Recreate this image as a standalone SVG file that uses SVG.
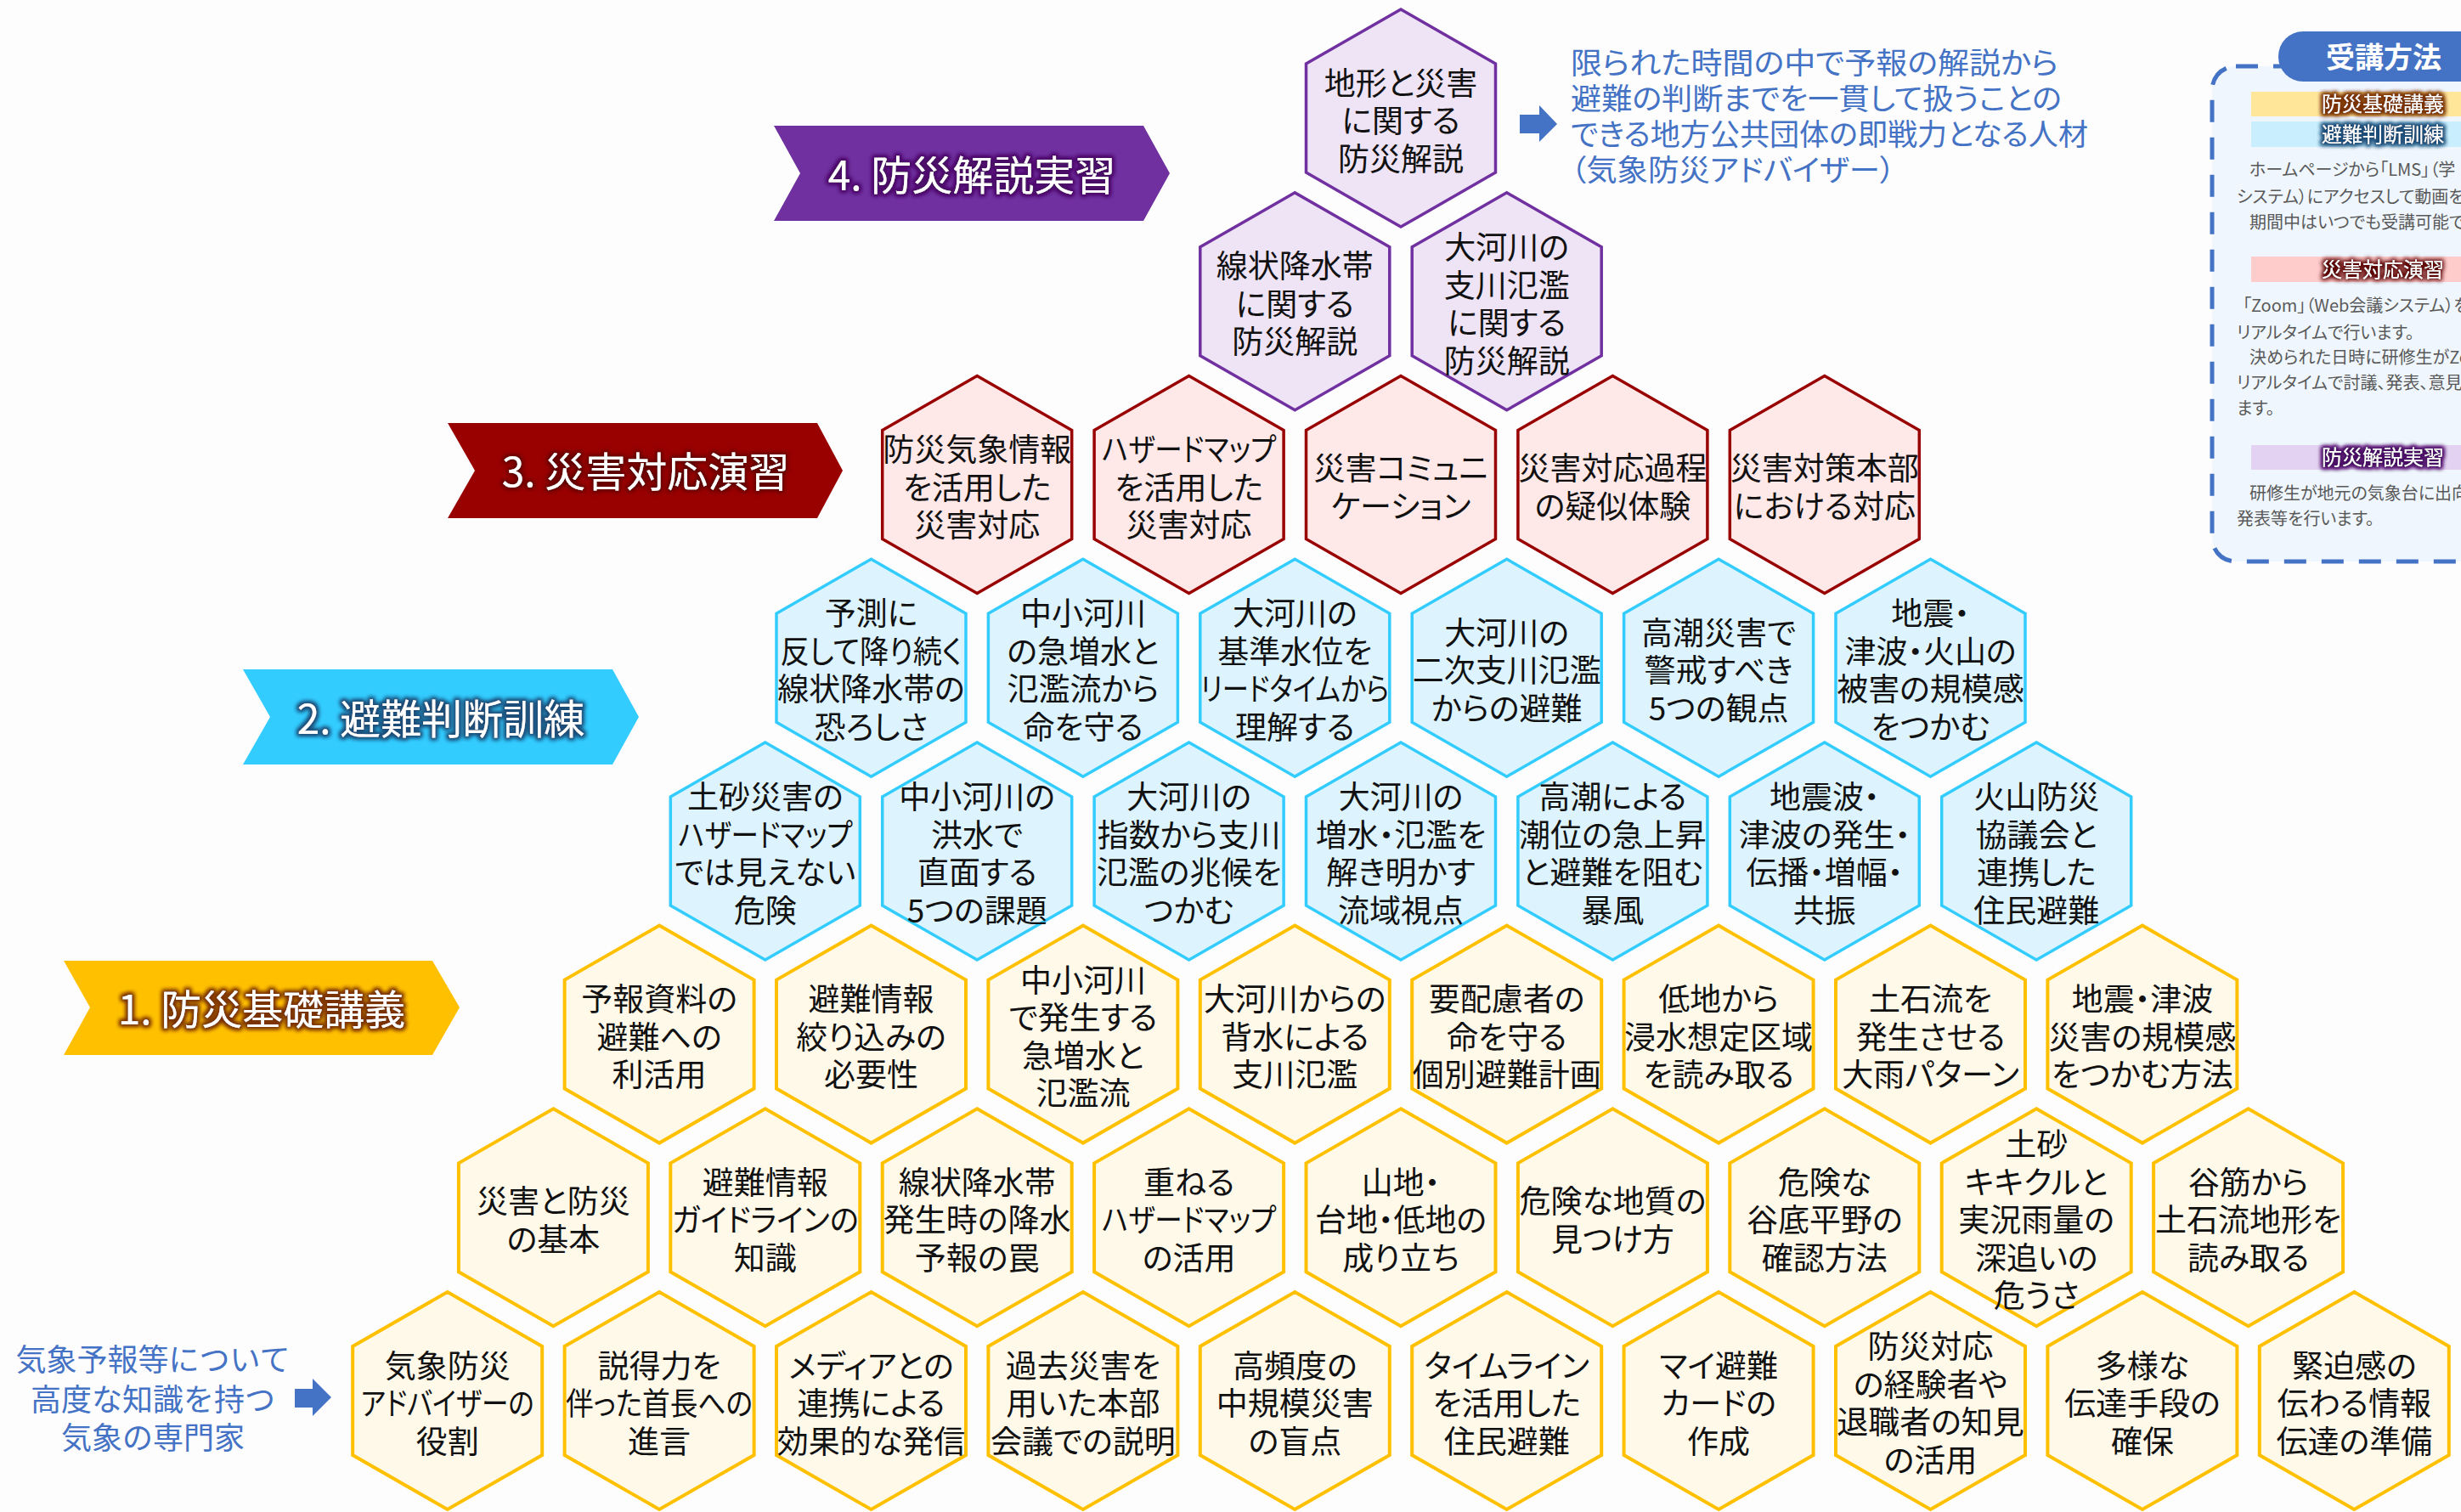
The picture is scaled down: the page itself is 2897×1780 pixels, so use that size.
<svg xmlns="http://www.w3.org/2000/svg" xmlns:xlink="http://www.w3.org/1999/xlink" width="2897" height="1780" viewBox="0 0 2897 1780">
<style>
.hy{fill:#FFF9EA;stroke:#FFC000;stroke-width:4}
.hb{fill:#DDF4FE;stroke:#33CCFF;stroke-width:3.5}
.hr{fill:#FFE8E8;stroke:#990000;stroke-width:3.5}
.hp{fill:#EEE4F5;stroke:#7030A0;stroke-width:3.5}
.t{font-family:"Noto Sans CJK JP","Noto Sans",sans-serif;font-size:37px;fill:#111;text-anchor:middle;font-feature-settings:"palt" 1}
.bn{font-family:"Noto Sans CJK JP","Noto Sans",sans-serif;font-size:48px;fill:#fff;text-anchor:middle}
.bl{font-family:"Noto Sans CJK JP","Noto Sans",sans-serif;font-size:35px;fill:#4472C4;font-feature-settings:"palt" 1}
.bl2{font-family:"Noto Sans CJK JP","Noto Sans",sans-serif;font-size:36px;fill:#4472C4;text-anchor:middle}
.arr{fill:#4472C4}
.lg{font-family:"Noto Sans CJK JP","Noto Sans",sans-serif;font-size:24px;fill:#fff;text-anchor:middle}
.lp{font-family:"Noto Sans CJK JP","Noto Sans",sans-serif;font-size:20px;fill:#595959;font-feature-settings:"palt" 1}
</style>
<defs>
<path id="hex" d="M0,-128 L111.5,-64 L111.5,64 L0,128 L-111.5,64 L-111.5,-64 Z"/>
<filter id="gBrown" x="-10%" y="-40%" width="120%" height="180%">
<feMorphology in="SourceAlpha" operator="dilate" radius="2" result="d"/>
<feGaussianBlur in="d" stdDeviation="2.5" result="b"/>
<feFlood flood-color="#7A3300"/>
<feComposite in2="b" operator="in" result="g"/>
<feMerge><feMergeNode in="g"/><feMergeNode in="g"/><feMergeNode in="SourceGraphic"/></feMerge>
</filter>
<filter id="gNavy" x="-10%" y="-40%" width="120%" height="180%">
<feMorphology in="SourceAlpha" operator="dilate" radius="2" result="d"/>
<feGaussianBlur in="d" stdDeviation="2.5" result="b"/>
<feFlood flood-color="#1F4E79"/>
<feComposite in2="b" operator="in" result="g"/>
<feMerge><feMergeNode in="g"/><feMergeNode in="g"/><feMergeNode in="SourceGraphic"/></feMerge>
</filter>
<filter id="gRed" x="-10%" y="-40%" width="120%" height="180%">
<feMorphology in="SourceAlpha" operator="dilate" radius="2" result="d"/>
<feGaussianBlur in="d" stdDeviation="2.5" result="b"/>
<feFlood flood-color="#5A0000"/>
<feComposite in2="b" operator="in" result="g"/>
<feMerge><feMergeNode in="g"/><feMergeNode in="SourceGraphic"/></feMerge>
</filter>
<filter id="gPurple" x="-10%" y="-40%" width="120%" height="180%">
<feMorphology in="SourceAlpha" operator="dilate" radius="2" result="d"/>
<feGaussianBlur in="d" stdDeviation="2.5" result="b"/>
<feFlood flood-color="#4A0A66"/>
<feComposite in2="b" operator="in" result="g"/>
<feMerge><feMergeNode in="g"/><feMergeNode in="g"/><feMergeNode in="SourceGraphic"/></feMerge>
</filter>
</defs>
<rect x="0" y="0" width="2897" height="1780" fill="#FDFDFE"/>

<!-- Level banners -->
<g id="banner4">
<polygon points="911,148 1346,148 1377,204 1346,260 911,260 942,204" fill="#7030A0"/>
<text class="bn" x="1144" y="224" filter="url(#gPurple)">4. 防災解説実習</text>
</g>
<g id="banner3">
<polygon points="527,498 962,498 992,554 962,610 527,610 559,554" fill="#990000"/>
<text class="bn" x="760" y="573" filter="url(#gRed)">3. 災害対応演習</text>
</g>
<g id="banner2">
<polygon points="286,788 721,788 752,844 721,900 286,900 318,844" fill="#33CCFF"/>
<text class="bn" x="519" y="864" filter="url(#gNavy)">2. 避難判断訓練</text>
</g>
<g id="banner1">
<polygon points="75,1131 509,1131 541,1186 509,1242 75,1242 106,1186" fill="#FFC000"/>
<text class="bn" x="308" y="1206" filter="url(#gBrown)">1. 防災基礎講義</text>
</g>

<!-- Side texts -->
<g id="goal">
<text class="bl" x="1849" y="87" textLength="574" lengthAdjust="spacingAndGlyphs">限られた時間の中で予報の解説から</text>
<text class="bl" x="1849" y="129" textLength="578" lengthAdjust="spacingAndGlyphs">避難の判断までを一貫して扱うことの</text>
<text class="bl" x="1849" y="171" textLength="609" lengthAdjust="spacingAndGlyphs">できる地方公共団体の即戦力となる人材</text>
<text class="bl" x="1849" y="213" textLength="382" lengthAdjust="spacingAndGlyphs">（気象防災アドバイザー）</text>
</g>
<g id="start">
<text class="bl2" x="180" y="1614">気象予報等について</text>
<text class="bl2" x="180" y="1661">高度な知識を持つ</text>
<text class="bl2" x="180" y="1706">気象の専門家</text>
</g>

<!-- Connectors -->
<g id="connectors">
<polygon class="arr" points="1789,135 1812,135 1812,124 1833,146 1812,167 1812,157 1789,157"/>
<polygon class="arr" points="347,1635 368,1635 368,1623 390,1645 368,1667 368,1657 347,1657"/>
</g>

<!-- Row 8 -->
<g id="p-top" transform="translate(1649,139.1)"><use href="#hex" class="hp"/><text class="t"><tspan x="0" y="-27.5">地形と災害</tspan><tspan x="0" y="17">に関する</tspan><tspan x="0" y="61.5">防災解説</tspan></text></g>
<!-- Row 7 -->
<g id="p-1" transform="translate(1524.3,354.8)"><use href="#hex" class="hp"/><text class="t"><tspan x="0" y="-27.5">線状降水帯</tspan><tspan x="0" y="17">に関する</tspan><tspan x="0" y="61.5">防災解説</tspan></text></g>
<g id="p-2" transform="translate(1773.7,354.8)"><use href="#hex" class="hp"/><text class="t"><tspan x="0" y="-49.75">大河川の</tspan><tspan x="0" y="-5.25">支川氾濫</tspan><tspan x="0" y="39.25">に関する</tspan><tspan x="0" y="83.75">防災解説</tspan></text></g>
<!-- Row 6 -->
<g id="r-1" transform="translate(1150.2,570.5)"><use href="#hex" class="hr"/><text class="t"><tspan x="0" y="-27.5">防災気象情報</tspan><tspan x="0" y="17">を活用した</tspan><tspan x="0" y="61.5">災害対応</tspan></text></g>
<g id="r-2" transform="translate(1399.6,570.5)"><use href="#hex" class="hr"/><text class="t" x="0" y="-27.5" textLength="205" lengthAdjust="spacingAndGlyphs">ハザードマップ</text><text class="t"><tspan x="0" y="17">を活用した</tspan><tspan x="0" y="61.5">災害対応</tspan></text></g>
<g id="r-3" transform="translate(1649,570.5)"><use href="#hex" class="hr"/><text class="t"><tspan x="0" y="-5.25">災害コミュニ</tspan><tspan x="0" y="39.25">ケーション</tspan></text></g>
<g id="r-4" transform="translate(1898.4,570.5)"><use href="#hex" class="hr"/><text class="t"><tspan x="0" y="-5.25">災害対応過程</tspan><tspan x="0" y="39.25">の疑似体験</tspan></text></g>
<g id="r-5" transform="translate(2147.8,570.5)"><use href="#hex" class="hr"/><text class="t"><tspan x="0" y="-5.25">災害対策本部</tspan><tspan x="0" y="39.25">における対応</tspan></text></g>
<!-- Row 5 -->
<g id="b5-1" transform="translate(1025.5,786.2)"><use href="#hex" class="hb"/><text class="t"><tspan x="0" y="-49.75">予測に</tspan></text><text class="t" x="0" y="-5.25" textLength="214" lengthAdjust="spacingAndGlyphs">反して降り続く</text><text class="t"><tspan x="0" y="39.25">線状降水帯の</tspan><tspan x="0" y="83.75">恐ろしさ</tspan></text></g>
<g id="b5-2" transform="translate(1274.9,786.2)"><use href="#hex" class="hb"/><text class="t"><tspan x="0" y="-49.75">中小河川</tspan><tspan x="0" y="-5.25">の急増水と</tspan><tspan x="0" y="39.25">氾濫流から</tspan><tspan x="0" y="83.75">命を守る</tspan></text></g>
<g id="b5-3" transform="translate(1524.3,786.2)"><use href="#hex" class="hb"/><text class="t"><tspan x="0" y="-49.75">大河川の</tspan><tspan x="0" y="-5.25">基準水位を</tspan></text><text class="t" x="0" y="39.25" textLength="222" lengthAdjust="spacingAndGlyphs">リードタイムから</text><text class="t"><tspan x="0" y="83.75">理解する</tspan></text></g>
<g id="b5-4" transform="translate(1773.7,786.2)"><use href="#hex" class="hb"/><text class="t"><tspan x="0" y="-27.5">大河川の</tspan><tspan x="0" y="17">二次支川氾濫</tspan><tspan x="0" y="61.5">からの避難</tspan></text></g>
<g id="b5-5" transform="translate(2023.1,786.2)"><use href="#hex" class="hb"/><text class="t"><tspan x="0" y="-27.5">高潮災害で</tspan><tspan x="0" y="17">警戒すべき</tspan><tspan x="0" y="61.5">5つの観点</tspan></text></g>
<g id="b5-6" transform="translate(2272.5,786.2)"><use href="#hex" class="hb"/><text class="t"><tspan x="0" y="-49.75">地震・</tspan><tspan x="0" y="-5.25">津波・火山の</tspan><tspan x="0" y="39.25">被害の規模感</tspan><tspan x="0" y="83.75">をつかむ</tspan></text></g>
<!-- Row 4 -->
<g id="b4-1" transform="translate(900.8,1001.9)"><use href="#hex" class="hb"/><text class="t"><tspan x="0" y="-49.75">土砂災害の</tspan></text><text class="t" x="0" y="-5.25" textLength="205" lengthAdjust="spacingAndGlyphs">ハザードマップ</text><text class="t"><tspan x="0" y="39.25">では見えない</tspan><tspan x="0" y="83.75">危険</tspan></text></g>
<g id="b4-2" transform="translate(1150.2,1001.9)"><use href="#hex" class="hb"/><text class="t"><tspan x="0" y="-49.75">中小河川の</tspan><tspan x="0" y="-5.25">洪水で</tspan><tspan x="0" y="39.25">直面する</tspan><tspan x="0" y="83.75">5つの課題</tspan></text></g>
<g id="b4-3" transform="translate(1399.6,1001.9)"><use href="#hex" class="hb"/><text class="t"><tspan x="0" y="-49.75">大河川の</tspan><tspan x="0" y="-5.25">指数から支川</tspan><tspan x="0" y="39.25">氾濫の兆候を</tspan><tspan x="0" y="83.75">つかむ</tspan></text></g>
<g id="b4-4" transform="translate(1649,1001.9)"><use href="#hex" class="hb"/><text class="t"><tspan x="0" y="-49.75">大河川の</tspan><tspan x="0" y="-5.25">増水・氾濫を</tspan><tspan x="0" y="39.25">解き明かす</tspan><tspan x="0" y="83.75">流域視点</tspan></text></g>
<g id="b4-5" transform="translate(1898.4,1001.9)"><use href="#hex" class="hb"/><text class="t"><tspan x="0" y="-49.75">高潮による</tspan><tspan x="0" y="-5.25">潮位の急上昇</tspan><tspan x="0" y="39.25">と避難を阻む</tspan><tspan x="0" y="83.75">暴風</tspan></text></g>
<g id="b4-6" transform="translate(2147.8,1001.9)"><use href="#hex" class="hb"/><text class="t"><tspan x="0" y="-49.75">地震波・</tspan><tspan x="0" y="-5.25">津波の発生・</tspan><tspan x="0" y="39.25">伝播・増幅・</tspan><tspan x="0" y="83.75">共振</tspan></text></g>
<g id="b4-7" transform="translate(2397.2,1001.9)"><use href="#hex" class="hb"/><text class="t"><tspan x="0" y="-49.75">火山防災</tspan><tspan x="0" y="-5.25">協議会と</tspan><tspan x="0" y="39.25">連携した</tspan><tspan x="0" y="83.75">住民避難</tspan></text></g>
<!-- Row 3 -->
<g id="y3-1" transform="translate(776.1,1217.6)"><use href="#hex" class="hy"/><text class="t"><tspan x="0" y="-27.5">予報資料の</tspan><tspan x="0" y="17">避難への</tspan><tspan x="0" y="61.5">利活用</tspan></text></g>
<g id="y3-2" transform="translate(1025.5,1217.6)"><use href="#hex" class="hy"/><text class="t"><tspan x="0" y="-27.5">避難情報</tspan><tspan x="0" y="17">絞り込みの</tspan><tspan x="0" y="61.5">必要性</tspan></text></g>
<g id="y3-3" transform="translate(1274.9,1217.6)"><use href="#hex" class="hy"/><text class="t"><tspan x="0" y="-49.75">中小河川</tspan><tspan x="0" y="-5.25">で発生する</tspan><tspan x="0" y="39.25">急増水と</tspan><tspan x="0" y="83.75">氾濫流</tspan></text></g>
<g id="y3-4" transform="translate(1524.3,1217.6)"><use href="#hex" class="hy"/><text class="t"><tspan x="0" y="-27.5">大河川からの</tspan><tspan x="0" y="17">背水による</tspan><tspan x="0" y="61.5">支川氾濫</tspan></text></g>
<g id="y3-5" transform="translate(1773.7,1217.6)"><use href="#hex" class="hy"/><text class="t"><tspan x="0" y="-27.5">要配慮者の</tspan><tspan x="0" y="17">命を守る</tspan><tspan x="0" y="61.5">個別避難計画</tspan></text></g>
<g id="y3-6" transform="translate(2023.1,1217.6)"><use href="#hex" class="hy"/><text class="t"><tspan x="0" y="-27.5">低地から</tspan><tspan x="0" y="17">浸水想定区域</tspan><tspan x="0" y="61.5">を読み取る</tspan></text></g>
<g id="y3-7" transform="translate(2272.5,1217.6)"><use href="#hex" class="hy"/><text class="t"><tspan x="0" y="-27.5">土石流を</tspan><tspan x="0" y="17">発生させる</tspan><tspan x="0" y="61.5">大雨パターン</tspan></text></g>
<g id="y3-8" transform="translate(2521.9,1217.6)"><use href="#hex" class="hy"/><text class="t"><tspan x="0" y="-27.5">地震・津波</tspan><tspan x="0" y="17">災害の規模感</tspan><tspan x="0" y="61.5">をつかむ方法</tspan></text></g>
<!-- Row 2 -->
<g id="y2-1" transform="translate(651.4,1433.3)"><use href="#hex" class="hy"/><text class="t"><tspan x="0" y="-5.25">災害と防災</tspan><tspan x="0" y="39.25">の基本</tspan></text></g>
<g id="y2-2" transform="translate(900.8,1433.3)"><use href="#hex" class="hy"/><text class="t"><tspan x="0" y="-27.5">避難情報</tspan></text><text class="t" x="0" y="17" textLength="220" lengthAdjust="spacingAndGlyphs">ガイドラインの</text><text class="t"><tspan x="0" y="61.5">知識</tspan></text></g>
<g id="y2-3" transform="translate(1150.2,1433.3)"><use href="#hex" class="hy"/><text class="t"><tspan x="0" y="-27.5">線状降水帯</tspan><tspan x="0" y="17">発生時の降水</tspan><tspan x="0" y="61.5">予報の罠</tspan></text></g>
<g id="y2-4" transform="translate(1399.6,1433.3)"><use href="#hex" class="hy"/><text class="t"><tspan x="0" y="-27.5">重ねる</tspan></text><text class="t" x="0" y="17" textLength="205" lengthAdjust="spacingAndGlyphs">ハザードマップ</text><text class="t"><tspan x="0" y="61.5">の活用</tspan></text></g>
<g id="y2-5" transform="translate(1649,1433.3)"><use href="#hex" class="hy"/><text class="t"><tspan x="0" y="-27.5">山地・</tspan><tspan x="0" y="17">台地・低地の</tspan><tspan x="0" y="61.5">成り立ち</tspan></text></g>
<g id="y2-6" transform="translate(1898.4,1433.3)"><use href="#hex" class="hy"/><text class="t"><tspan x="0" y="-5.25">危険な地質の</tspan><tspan x="0" y="39.25">見つけ方</tspan></text></g>
<g id="y2-7" transform="translate(2147.8,1433.3)"><use href="#hex" class="hy"/><text class="t"><tspan x="0" y="-27.5">危険な</tspan><tspan x="0" y="17">谷底平野の</tspan><tspan x="0" y="61.5">確認方法</tspan></text></g>
<g id="y2-8" transform="translate(2397.2,1433.3)"><use href="#hex" class="hy"/><text class="t"><tspan x="0" y="-72">土砂</tspan><tspan x="0" y="-27.5">キキクルと</tspan><tspan x="0" y="17">実況雨量の</tspan><tspan x="0" y="61.5">深追いの</tspan><tspan x="0" y="106">危うさ</tspan></text></g>
<g id="y2-9" transform="translate(2646.6,1433.3)"><use href="#hex" class="hy"/><text class="t"><tspan x="0" y="-27.5">谷筋から</tspan><tspan x="0" y="17">土石流地形を</tspan><tspan x="0" y="61.5">読み取る</tspan></text></g>
<!-- Row 1 -->
<g id="y1-1" transform="translate(526.7,1649)"><use href="#hex" class="hy"/><text class="t"><tspan x="0" y="-27.5">気象防災</tspan></text><text class="t" x="0" y="17" textLength="204" lengthAdjust="spacingAndGlyphs">アドバイザーの</text><text class="t"><tspan x="0" y="61.5">役割</tspan></text></g>
<g id="y1-2" transform="translate(776.1,1649)"><use href="#hex" class="hy"/><text class="t"><tspan x="0" y="-27.5">説得力を</tspan></text><text class="t" x="0" y="17" textLength="220" lengthAdjust="spacingAndGlyphs">伴った首長への</text><text class="t"><tspan x="0" y="61.5">進言</tspan></text></g>
<g id="y1-3" transform="translate(1025.5,1649)"><use href="#hex" class="hy"/><text class="t"><tspan x="0" y="-27.5">メディアとの</tspan><tspan x="0" y="17">連携による</tspan><tspan x="0" y="61.5">効果的な発信</tspan></text></g>
<g id="y1-4" transform="translate(1274.9,1649)"><use href="#hex" class="hy"/><text class="t"><tspan x="0" y="-27.5">過去災害を</tspan><tspan x="0" y="17">用いた本部</tspan><tspan x="0" y="61.5">会議での説明</tspan></text></g>
<g id="y1-5" transform="translate(1524.3,1649)"><use href="#hex" class="hy"/><text class="t"><tspan x="0" y="-27.5">高頻度の</tspan><tspan x="0" y="17">中規模災害</tspan><tspan x="0" y="61.5">の盲点</tspan></text></g>
<g id="y1-6" transform="translate(1773.7,1649)"><use href="#hex" class="hy"/><text class="t"><tspan x="0" y="-27.5">タイムライン</tspan><tspan x="0" y="17">を活用した</tspan><tspan x="0" y="61.5">住民避難</tspan></text></g>
<g id="y1-7" transform="translate(2023.1,1649)"><use href="#hex" class="hy"/><text class="t"><tspan x="0" y="-27.5">マイ避難</tspan><tspan x="0" y="17">カードの</tspan><tspan x="0" y="61.5">作成</tspan></text></g>
<g id="y1-8" transform="translate(2272.5,1649)"><use href="#hex" class="hy"/><text class="t"><tspan x="0" y="-49.75">防災対応</tspan><tspan x="0" y="-5.25">の経験者や</tspan><tspan x="0" y="39.25">退職者の知見</tspan><tspan x="0" y="83.75">の活用</tspan></text></g>
<g id="y1-9" transform="translate(2521.9,1649)"><use href="#hex" class="hy"/><text class="t"><tspan x="0" y="-27.5">多様な</tspan><tspan x="0" y="17">伝達手段の</tspan><tspan x="0" y="61.5">確保</tspan></text></g>
<g id="y1-10" transform="translate(2771.3,1649)"><use href="#hex" class="hy"/><text class="t"><tspan x="0" y="-27.5">緊迫感の</tspan><tspan x="0" y="17">伝わる情報</tspan><tspan x="0" y="61.5">伝達の準備</tspan></text></g>

<!-- Legend panel -->
<g id="legend">
<rect x="2604" y="78" width="340" height="583" rx="28" fill="#EFF6FD" stroke="#4472C4" stroke-width="5" stroke-dasharray="26 18"/>
<rect x="2682" y="37" width="300" height="59" rx="29" fill="#4472C4"/>
<text x="2806" y="80" font-family="'Noto Sans CJK JP','Noto Sans',sans-serif" font-size="34" font-weight="700" fill="#fff" text-anchor="middle">受講方法</text>
<rect x="2650" y="108" width="260" height="29" fill="#FFE699"/>
<text class="lg" x="2805" y="131" filter="url(#gBrown)">防災基礎講義</text>
<rect x="2650" y="143" width="260" height="30" fill="#C9EFFF"/>
<text class="lg" x="2805" y="167" filter="url(#gNavy)">避難判断訓練</text>
<text class="lp" x="2648" y="207">ホームページから「LMS」（学</text>
<text class="lp" x="2633" y="239">システム）にアクセスして動画を視</text>
<text class="lp" x="2648" y="269">期間中はいつでも受講可能で</text>
<rect x="2650" y="302" width="260" height="30" fill="#FFCCCC"/>
<text class="lg" x="2805" y="326" filter="url(#gRed)">災害対応演習</text>
<text class="lp" x="2640" y="367">「Zoom」（Web会議システム）を</text>
<text class="lp" x="2633" y="399">リアルタイムで行います。</text>
<text class="lp" x="2648" y="428">決められた日時に研修生がZoom</text>
<text class="lp" x="2633" y="458">リアルタイムで討議、発表、意見交</text>
<text class="lp" x="2633" y="488">ます。</text>
<rect x="2650" y="524" width="260" height="29" fill="#E4D2F2"/>
<text class="lg" x="2805" y="547" filter="url(#gPurple)">防災解説実習</text>
<text class="lp" x="2648" y="588">研修生が地元の気象台に出向い</text>
<text class="lp" x="2633" y="618">発表等を行います。</text>
</g>
</svg>
